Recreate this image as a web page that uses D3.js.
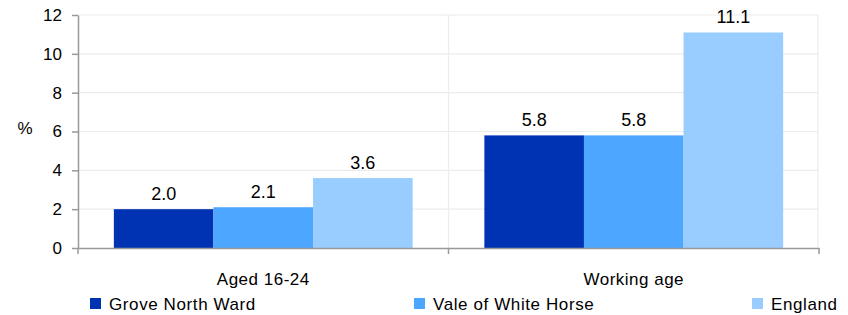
<!DOCTYPE html>
<html><head><meta charset="utf-8">
<script src="https://cdn.jsdelivr.net/npm/d3@7"></script>
<style>body{margin:0;background:#fff}svg{display:block}text{font-family:"Liberation Sans",Arial,sans-serif;fill:#000}</style>
</head><body><svg id="c" width="848" height="315"></svg>
<script>
const categories = ["Aged 16-24", "Working age"];
const seriesNames = ["Grove North Ward", "Vale of White Horse", "England"];
const groveValues = [2.0, 5.8];
const valeValues = [2.1, 5.8];
const englandValues = [3.6, 11.1];
const yTicks = [0, 2, 4, 6, 8, 10, 12];
const colors = ["#0033b3", "#4da6ff", "#99ccff"];

const svg = d3.select("#c");
const L = 78, R = 819, T = 15, B = 248;
const FF = "Liberation Sans, Arial, sans-serif";
const x = d3.scaleBand().domain(categories).range([L, R]).paddingInner(0).paddingOuter(0);
const xs = d3.scaleBand().domain(seriesNames).range([0, x.bandwidth()]).paddingInner(0).paddingOuter(0.36);
const y = d3.scaleLinear().domain([0, 12]).range([B, T]);

// grid
svg.append("g").selectAll("line").data(yTicks.slice(1)).join("line")
  .attr("x1", L).attr("x2", R - 1).attr("y1", d => y(d)).attr("y2", d => y(d))
  .attr("stroke", "#ececec").attr("stroke-width", 1.2);
svg.append("g").selectAll("line").data(categories.map((c, i) => x(c) + x.bandwidth() - (i === categories.length - 1 ? 1 : 0))).join("line")
  .attr("x1", d => d).attr("x2", d => d).attr("y1", T).attr("y2", B)
  .attr("stroke", "#ececec").attr("stroke-width", 1.2);

// bars
const data = seriesNames.map((s, i) => ({name: s, values: [groveValues, valeValues, englandValues][i], color: colors[i]}));
const g = svg.append("g");
data.forEach(s => {
  g.selectAll(null).data(categories).join("rect")
    .attr("x", (c) => x(c) + xs(s.name))
    .attr("width", xs.bandwidth())
    .attr("y", (c, j) => y(s.values[j]))
    .attr("height", (c, j) => B - y(s.values[j]))
    .attr("fill", s.color);
  g.selectAll(null).data(categories).join("text")
    .attr("x", (c) => x(c) + xs(s.name) + xs.bandwidth()/2)
    .attr("y", (c, j) => y(s.values[j]) - 9)
    .attr("text-anchor", "middle").attr("font-size", 18)
    .text((c, j) => s.values[j].toFixed(1));
});

// y axis
const ya = svg.append("g").attr("transform", `translate(${L},0)`)
  .call(d3.axisLeft(y).tickValues(yTicks).tickSize(6).tickPadding(10).tickSizeOuter(0));
ya.select(".domain").attr("stroke", "#999").attr("stroke-width", 1.5);
ya.selectAll(".tick line").attr("stroke", "#999").attr("stroke-width", 1.5);
ya.selectAll(".tick text").attr("font-size", 17).attr("font-family", FF).attr("fill", "#000");

// x axis
const xa = svg.append("g").attr("transform", `translate(0,${B})`)
  .call(d3.axisBottom(x).tickSize(0).tickPadding(25).tickSizeOuter(0));
xa.select(".domain").attr("stroke", "#999").attr("stroke-width", 1.5);
xa.selectAll(".tick text").attr("font-size", 17).attr("letter-spacing", "0.5px").attr("font-family", FF).attr("fill", "#000");
const bounds = [L].concat(categories.map(c => x(c) + x.bandwidth()));
svg.append("g").selectAll("line").data(bounds).join("line")
  .attr("x1", d => d).attr("x2", d => d).attr("y1", B).attr("y2", B + 6)
  .attr("stroke", "#999").attr("stroke-width", 1.5);

svg.append("text").attr("x", 25).attr("y", 134).attr("text-anchor", "middle").attr("font-size", 17).text("%");

// legend
const legX = [90, 414, 752];
const lg = svg.append("g").selectAll("g").data(data).join("g")
  .attr("transform", (d, i) => `translate(${legX[i]},298)`);
lg.append("rect").attr("width", 11).attr("height", 11).attr("fill", d => d.color);
lg.append("text").attr("x", 19).attr("y", 12).attr("font-size", 17).attr("letter-spacing", "0.6px").text(d => d.name);
</script></body></html>
